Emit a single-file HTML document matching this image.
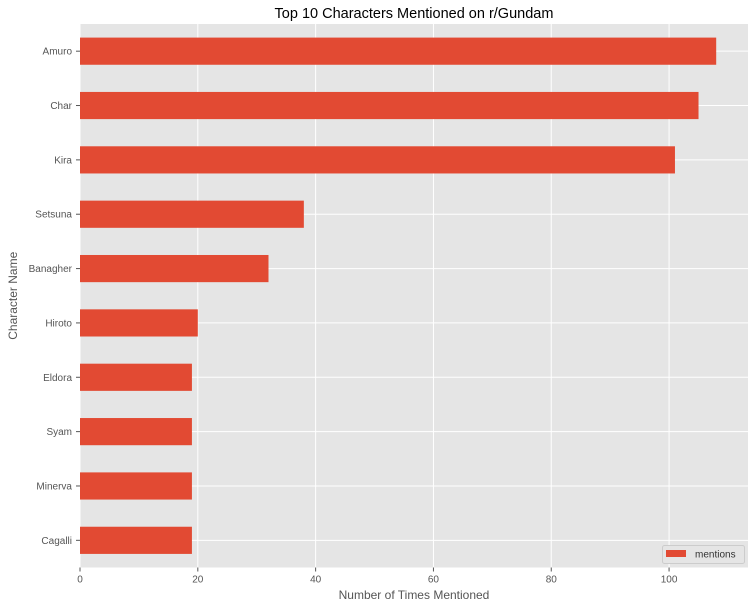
<!DOCTYPE html>
<html><head><meta charset="utf-8"><style>
body{margin:0;background:#fff;font-family:"Liberation Sans",sans-serif}
</style></head><body>
<svg id="c" width="756" height="609" xmlns="http://www.w3.org/2000/svg"></svg>
<script>
const categories=["Amuro","Char","Kira","Setsuna","Banagher","Hiroto","Eldora","Syam","Minerva","Cagalli"];
const mentions=[108,105,101,38,32,20,19,19,19,19];
const xTicks=[0,20,40,60,80,100];
const L=80,R=748,T=24,B=567.5,xMax=113.4;
const svg=document.getElementById('c');
const NS='http://www.w3.org/2000/svg';
function x(v){return L+(v/xMax)*(R-L);}
const band=(B-T)/categories.length;
function y(i){return T+band*(i+0.5);}
function mk(t,a,p){const e=document.createElementNS(NS,t);for(const k in a)e.setAttribute(k,a[k]);(p||svg).appendChild(e);return e;}
const bg=mk('rect',{x:L,y:T,width:R-L,height:B-T,fill:'#e5e5e5'});


xTicks.forEach(v=>{
 const g=mk('line',{x1:x(v),x2:x(v),y1:T,y2:B,stroke:'#fff','stroke-width':1});
 
 
 mk('line',{x1:x(v),x2:x(v),y1:B,y2:B+4,stroke:'#555'});
 const t=mk('text',{x:x(v),y:B+15,'text-anchor':'middle','font-size':10,fill:'#555'});
 t.textContent=v;
 
 
});
categories.forEach((c,i)=>{
 const g=mk('line',{x1:L,x2:R,y1:y(i),y2:y(i),stroke:'#fff','stroke-width':1});
 
 
});
categories.forEach((c,i)=>{
 const b=mk('rect',{x:L,y:y(i)-band/4,width:x(mentions[i])-L,height:band/2,fill:'#e24a33'});
 
 
 mk('line',{x1:L-4,x2:L,y1:y(i),y2:y(i),stroke:'#555'});
 const t=mk('text',{x:L-8,y:y(i)+3.5,'text-anchor':'end','font-size':10,fill:'#555'});
 t.textContent=c;
 
 
});
const ti=mk('text',{x:(L+R)/2,y:18,'text-anchor':'middle','font-size':14.5,fill:'#000'});
ti.textContent='Top 10 Characters Mentioned on r/Gundam';


const xt=mk('text',{x:(L+R)/2,y:599,'text-anchor':'middle','font-size':12,fill:'#555'});
xt.textContent='Number of Times Mentioned';


const yt=mk('text',{x:17,y:(T+B)/2,'text-anchor':'middle','font-size':12,fill:'#555',transform:'rotate(-90 17 '+((T+B)/2)+')'});
yt.textContent='Character Name';


const lg=mk('g',{});


mk('rect',{x:662.5,y:545.5,width:82,height:18,rx:2,fill:'#e5e5e5',stroke:'#ccc'},lg);
mk('rect',{x:666,y:550,width:20,height:7,fill:'#e24a33'},lg);
const lt=mk('text',{x:695,y:557.5,'font-size':10,fill:'#333'},lg);
lt.textContent='mentions';


</script>
</body></html>
